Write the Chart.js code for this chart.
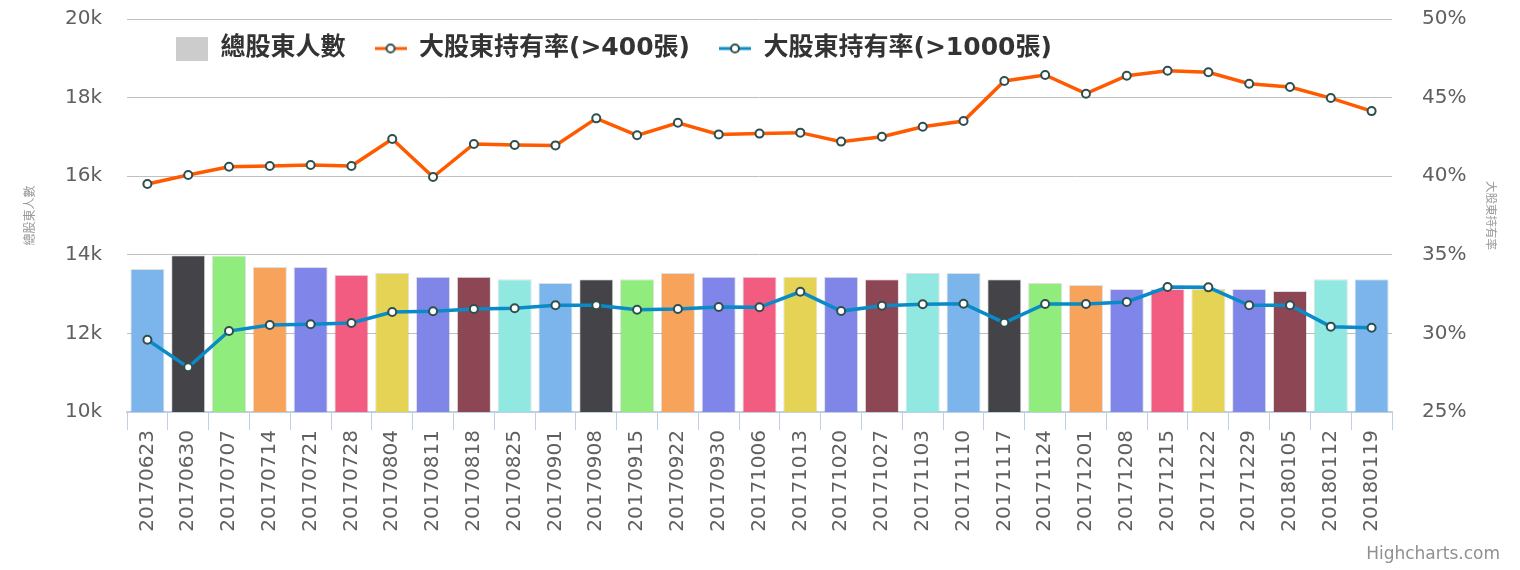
<!DOCTYPE html>
<html>
<head>
<meta charset="utf-8">
<script src="https://cdn.jsdelivr.net/npm/chart.js@4/dist/chart.umd.min.js"></script>
<style>
  html, body { margin: 0; padding: 0; background: #fff; }
  #wrap { width: 1520px; height: 570px; position: relative; }
</style>
</head>
<body>
<div id="wrap"><canvas id="holders-chart"></canvas></div>
<script>
// Data
const dates = [
  '20170623', '20170630', '20170707', '20170714', '20170721', '20170728',
  '20170804', '20170811', '20170818', '20170825', '20170901', '20170908',
  '20170915', '20170922', '20170930', '20171006', '20171013', '20171020',
  '20171027', '20171103', '20171110', '20171117', '20171124', '20171201',
  '20171208', '20171215', '20171222', '20171229', '20180105', '20180112',
  '20180119',
];
const totalHolders = [
  13640, 13990, 13980, 13690, 13690, 13490, 13540, 13440, 13440, 13380,
  13280, 13380, 13380, 13540, 13440, 13440, 13440, 13440, 13380, 13540,
  13540, 13380, 13280, 13230, 13130, 13130, 13130, 13130, 13080, 13380,
  13380,
];
const over400 = [
  39.5, 40.08, 40.6, 40.65, 40.71, 40.65, 42.37, 39.95, 42.05, 41.98,
  41.96, 43.68, 42.6, 43.4, 42.66, 42.71, 42.77, 42.2, 42.51, 43.15,
  43.51, 46.06, 46.44, 45.25, 46.39, 46.71, 46.61, 45.88, 45.67, 44.97,
  44.14,
];
const over1000 = [
  29.6, 27.84, 30.15, 30.53, 30.58, 30.66, 31.36, 31.41, 31.55, 31.6,
  31.79, 31.79, 31.51, 31.55, 31.68, 31.66, 32.65, 31.42, 31.76, 31.85,
  31.89, 30.68, 31.87, 31.87, 32.0, 32.95, 32.93, 31.79, 31.79, 30.43,
  30.36,
];
const leftTicks = { min: 10000, max: 20000, step: 2000 };
const rightTicks = { min: 25, max: 50, step: 5 };

// Highcharts-style palette, one colour per column
const palette = ['#7cb5ec', '#434348', '#90ed7d', '#f7a35c', '#8085e9',
  '#f15c80', '#e4d354', '#8085e8', '#8d4653', '#91e8e1'];
const FONT = "'DejaVu Sans', 'Noto Sans CJK TC', sans-serif";
const ORANGE = '#FF5A00';
const BLUE = '#0A8BC8';
const MARKER_EDGE = '#2F4F4F';

// legend symbols drawn on small canvases
const boxSymbol = () => {
  const c = document.createElement('canvas');
  c.width = 32; c.height = 24;
  const g = c.getContext('2d');
  g.fillStyle = '#CCCCCC';
  g.fillRect(0, 0, 32, 24);
  return c;
};
const lineSymbol = (color) => {
  const c = document.createElement('canvas');
  c.width = 32; c.height = 14;
  const g = c.getContext('2d');
  g.strokeStyle = color;
  g.lineWidth = 3;
  g.beginPath(); g.moveTo(0, 7); g.lineTo(32, 7); g.stroke();
  g.beginPath(); g.arc(16, 7, 4, 0, Math.PI * 2);
  g.fillStyle = '#fff'; g.fill();
  g.lineWidth = 2; g.strokeStyle = MARKER_EDGE; g.stroke();
  return c;
};
const symbols = [boxSymbol(), lineSymbol(ORANGE), lineSymbol(BLUE)];

// legend floats over the plot: take no layout height, then move it inside
const floatingLegend = {
  id: 'floatingLegend',
  beforeLayout(chart) {
    const lg = chart.legend;
    if (lg && !lg._floatPatched) {
      const fit = lg.fit;
      lg.fit = function () { fit.call(this); this._fullHeight = this.height; this.height = 0; };
      lg._floatPatched = true;
    }
  },
  afterLayout(chart) {
    const lg = chart.legend;
    const pad = lg.options.labels.padding;
    lg.left = chart.chartArea.left + 49 - pad;
    lg.top = chart.chartArea.top + 17 - pad;
    lg.height = lg._fullHeight + pad;
    lg.bottom = lg.top + lg.height;
  },
};
// credits text bottom right
const credits = {
  id: 'credits',
  afterDraw(chart) {
    const { ctx } = chart;
    ctx.save();
    ctx.font = `17px ${FONT}`;
    ctx.fillStyle = '#909090';
    ctx.textAlign = 'right';
    ctx.textBaseline = 'alphabetic';
    ctx.fillText('Highcharts.com', chart.width - 20, chart.height - 11);
    ctx.restore();
  },
};

const lineDataset = (label, data, color, order) => ({
  type: 'line',
  label,
  data,
  yAxisID: 'y1',
  borderColor: color,
  borderWidth: 3.5,
  tension: 0,
  pointRadius: 4,
  pointBorderWidth: 2,
  pointBackgroundColor: '#fff',
  pointBorderColor: MARKER_EDGE,
  order,
});

// tick padding should not push the plot down
const sideAxisFit = (width) => (s) => {
  s.width = width;
  s.paddingTop = 0;
  s.paddingBottom = 0;
};

new Chart(document.getElementById('holders-chart'), {
  type: 'bar',
  data: {
    labels: dates,
    datasets: [
      {
        label: '總股東人數',
        data: totalHolders,
        yAxisID: 'y',
        backgroundColor: totalHolders.map((_, i) => palette[i % palette.length]),
        borderColor: 'rgba(0,0,0,0.12)',
        borderWidth: 1,
        barPercentage: 0.835,
        categoryPercentage: 1,
        order: 3,
      },
      lineDataset('大股東持有率(>400張)', over400, ORANGE, 2),
      lineDataset('大股東持有率(>1000張)', over1000, BLUE, 1),
    ],
  },
  options: {
    responsive: true,
    maintainAspectRatio: false,
    animation: false,
    layout: { padding: { top: 19, bottom: 0, left: 0, right: 0 } },
    scales: {
      x: {
        offset: true,
        grid: {
          offset: true,
          drawOnChartArea: false,
          drawTicks: true,
          tickLength: 18,
          color: '#C0D0E0',
        },
        border: { color: '#C0D0E0', width: 2 },
        ticks: {
          autoSkip: false,
          minRotation: 90,
          maxRotation: 90,
          padding: 0,
          color: '#606060',
          font: { family: FONT, size: 20 },
        },
        afterFit: (s) => { s.height = 158; },
      },
      y: {
        position: 'left',
        min: leftTicks.min,
        max: leftTicks.max,
        grid: { color: '#C0C0C0', drawTicks: false },
        border: { display: false },
        ticks: {
          stepSize: leftTicks.step,
          padding: 25,
          color: '#606060',
          font: { family: FONT, size: 20 },
          callback: (v) => `${v / 1000}k`,
        },
        title: {
          display: true,
          text: '總股東人數',
          color: '#999',
          font: { family: FONT, size: 12 },
          padding: { top: 24, bottom: 0 },
        },
        afterFit: sideAxisFit(127),
      },
      y1: {
        position: 'right',
        min: rightTicks.min,
        max: rightTicks.max,
        grid: { drawOnChartArea: false, drawTicks: false },
        border: { display: false },
        ticks: {
          stepSize: rightTicks.step,
          padding: 30,
          color: '#606060',
          font: { family: FONT, size: 20 },
          callback: (v) => `${v}%`,
        },
        title: {
          display: true,
          text: '大股東持有率',
          color: '#999',
          font: { family: FONT, size: 11.5 },
          padding: { top: 23, bottom: 0 },
        },
        afterFit: sideAxisFit(128),
      },
    },
    plugins: {
      legend: {
        position: 'top',
        align: 'start',
        labels: {
          usePointStyle: true,
          pointStyleWidth: 32,
          padding: 29,
          color: '#333',
          font: { family: FONT, size: 25, weight: 'bold' },
          sort: (a, b) => a.datasetIndex - b.datasetIndex,
          generateLabels: (chart) => Chart.defaults.plugins.legend.labels
            .generateLabels(chart)
            .map((item) => ({ ...item, pointStyle: symbols[item.datasetIndex] })),
        },
      },
      tooltip: { enabled: false },
    },
  },
  plugins: [floatingLegend, credits],
});
</script>
</body>
</html>
